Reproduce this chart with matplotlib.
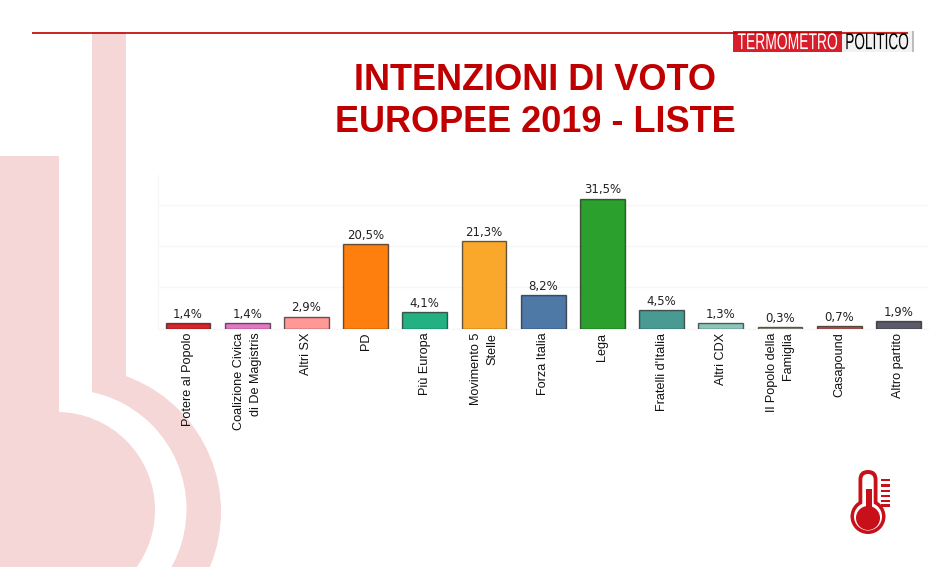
import matplotlib
matplotlib.use('Agg')
import matplotlib.pyplot as plt
import matplotlib.patches as mpatches
import matplotlib.patheffects as pe
from matplotlib.transforms import Affine2D

# values
parties = ['Potere al Popolo', 'Coalizione Civica\ndi De Magistris', 'Altri SX', 'PD', 'Più Europa',
           'Movimento 5\nStelle', 'Forza Italia', 'Lega', "Fratelli d'Italia", 'Altri CDX',
           'Il Popolo della\nFamiglia', 'Casapound', 'Altro partito']
votes = [1.4, 1.4, 2.9, 20.5, 4.1, 21.3, 8.2, 31.5, 4.5, 1.3, 0.3, 0.7, 1.9]
colors = ['#d62728', '#e377c2', '#ff9896', '#ff7f0e', '#23b183', '#f9a82b', '#4e79a7',
          '#2ca02c', '#4a9a94', '#8cc5bc', '#a8a890', '#b0574c', '#5a5a68']
grid_ticks = [0, 10, 20, 30]

W, H = 945, 567
RED = '#c00000'
PINK = '#f5d7d7'
ICON = '#c8101a'


class Squeeze(pe.AbstractPathEffect):
    # no condensed font installed, so stretch the glyphs around a point of the slide
    def __init__(self, x, y, sx, sy):
        super().__init__()
        self.tr = Affine2D().translate(-x, -(H - y)).scale(sx, sy).translate(x, H - y)

    def draw_path(self, renderer, gc, tpath, affine, rgbFace=None):
        renderer.draw_path(gc, tpath, affine + self.tr, rgbFace)


fig = plt.figure(figsize=(W / 100, H / 100), dpi=100, facecolor='white')

# background layer, in pixel coords of the slide
bg = fig.add_axes([0, 0, 1, 1], zorder=0)
bg.set_xlim(0, W)
bg.set_ylim(H, 0)
bg.axis('off')

# big faded thermometer
bg.add_patch(mpatches.Circle((77, 511.5), 144, fc=PINK, ec='none'))
bg.add_patch(mpatches.Rectangle((92, 32), 34, 350, fc=PINK, ec='none'))
bg.add_patch(mpatches.Rectangle((0, 0), 92, 420, fc='white', ec='none'))
bg.add_patch(mpatches.Circle((67, 509), 119.5, fc='white', ec='none'))
bg.add_patch(mpatches.Rectangle((0, 156), 59, 300, fc=PINK, ec='none'))
bg.add_patch(mpatches.Circle((57, 510), 98, fc=PINK, ec='none'))

# logo
bg.add_patch(mpatches.Rectangle((733, 31), 109, 21, fc='#d81e2a', ec='none'))
bg.add_patch(mpatches.Rectangle((842, 31), 70, 21, fc='#f2f2f2', ec='none'))
bg.add_patch(mpatches.Rectangle((912, 31), 2, 21, fc='#bdbdbd', ec='none'))
bg.plot([32, 908], [32.5, 32.5], color=RED, lw=1.2, solid_capstyle='butt')
t1 = bg.text(787.5, 42.5, 'TERMOMETRO', color='white', fontsize=10, ha='center', va='center',
             family='Liberation Sans')
t1.set_path_effects([Squeeze(787.5, 42.5, 1.0, 1.65)])
t2 = bg.text(877, 42.5, 'POLITICO', color='black', fontsize=10, ha='center', va='center',
             family='Liberation Sans')
t2.set_path_effects([Squeeze(877, 42.5, 0.98, 1.65)])

# title
bg.text(535, 81, 'INTENZIONI DI VOTO', color=RED, fontsize=26, fontweight='bold',
        ha='center', va='center', family='Liberation Sans')
bg.text(535, 123, 'EUROPEE 2019 - LISTE', color=RED, fontsize=26, fontweight='bold',
        ha='center', va='center', family='Liberation Sans')

# small thermometer icon
bg.add_patch(mpatches.Circle((868, 516.5), 17.5, fc=ICON, ec='none'))
bg.add_patch(mpatches.FancyBboxPatch((858.5, 470), 19, 45, boxstyle='round,pad=0,rounding_size=9.5',
                                     fc=ICON, ec='none'))
bg.add_patch(mpatches.Circle((868, 516.5), 14, fc='white', ec='none'))
bg.add_patch(mpatches.FancyBboxPatch((862.3, 474), 11.4, 40, boxstyle='round,pad=0,rounding_size=5.7',
                                     fc='white', ec='none'))
bg.add_patch(mpatches.Rectangle((865.7, 489), 6, 25, fc=ICON, ec='none'))
bg.add_patch(mpatches.Circle((868, 518), 12, fc=ICON, ec='none'))
for yy in [480, 485.5, 490.7, 495.7, 500.7, 505.3]:
    bg.add_patch(mpatches.Rectangle((881, yy - 1.2), 9, 2.4, fc=ICON, ec='none'))

# the chart
left, right, top, bottom = 158, 928, 175, 328.5
ax = fig.add_axes([left / W, 1 - bottom / H, (right - left) / W, (bottom - top) / H], zorder=1)
ax.patch.set_alpha(0)
xpos = list(range(len(parties)))
bars = ax.bar(xpos, votes, width=0.755, color=colors, edgecolor=(0, 0, 0, 0.6), linewidth=1, zorder=3)

ax.set_xlim(-0.507, 12.5)
ax.set_ylim(0, 37.2)
ax.set_yticks(grid_ticks)
ax.set_yticklabels([])
ax.yaxis.grid(True, color='#f6f6f6', lw=1)
ax.set_axisbelow(True)
ax.tick_params(length=0)
for s in ['top', 'right']:
    ax.spines[s].set_visible(False)
ax.spines['left'].set_color('#f6f6f6')
ax.spines['bottom'].set_color('#f6f6f6')

ax.set_xticks(xpos)
ax.set_xticklabels(parties, rotation=90, fontsize=9.1, family='Liberation Sans', ma='right',
                   color='#111111', linespacing=1.55)
ax.tick_params(axis='x', pad=3)

for x, v in zip(xpos, votes):
    ax.text(x, v + 0.5, ('%.1f%%' % v).replace('.', ','), ha='center', va='bottom',
            fontsize=8.5, family='DejaVu Sans', color='#222222')

fig.savefig('out.png', dpi=100)
